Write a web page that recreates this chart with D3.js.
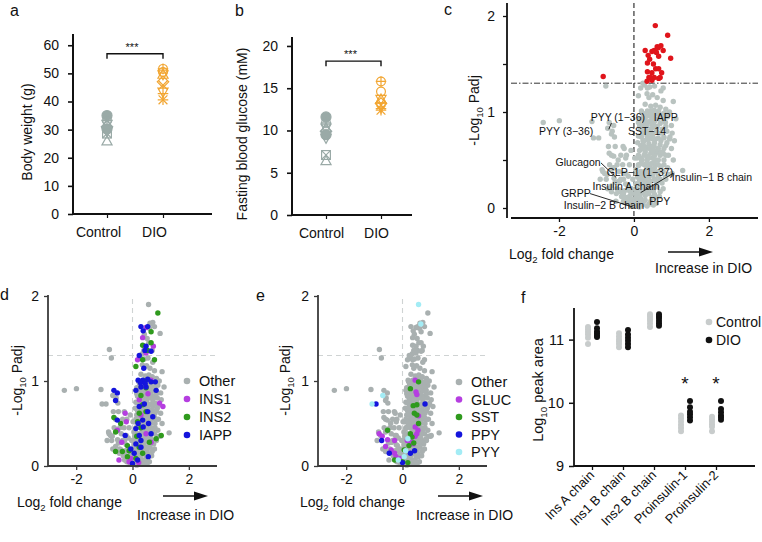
<!DOCTYPE html>
<html><head><meta charset="utf-8">
<script src="https://cdn.jsdelivr.net/npm/d3@7"></script>
<style>
body{margin:0;background:#fff}
svg{display:block}
text{font-family:"Liberation Sans",Arial,Helvetica,sans-serif;fill:#111}
</style>
</head><body>
<svg id="chart" width="762" height="542"></svg>
<script>
// ---------------- DATA ----------------
const groups = ["Control", "DIO"];
const weightTicks = [0, 10, 20, 30, 40, 50, 60];
const weightControl = [35.0, 33.2, 32.0, 31.0, 30.2, 29.4, 28.6, 25.9];
const weightDIO = [51.6, 50.5, 49.6, 47.0, 45.8, 43.4, 42.8, 40.6];
const glucoseTicks = [0, 5, 10, 15, 20];
const glucoseControl = [11.6, 10.9, 10.3, 9.9, 9.5, 9.1, 7.1, 6.4];
const glucoseDIO = [15.8, 14.6, 13.7, 13.2, 13.0, 12.8, 12.6, 12.4];
const controlShapes = ["dot", "circle+plus", "triangle+triangleDown", "diamond", "dot", "triangleDown", "square+x", "triangle"];
const dioShapes = ["circle+plus", "circle", "triangle+triangleDown", "diamond", "x", "triangleDown", "plus", "plus+x"];

// volcano data: [log2 fold change, -log10 padj]
const otherPeptides = [
 [-2.42,0.89],[-1.99,0.91],[-1.12,0.90],[-0.75,1.27],[-0.82,1.37],[-0.58,0.80],[-0.52,0.74],[-0.68,0.64],
 [-0.50,0.64],[-0.29,0.64],[-0.20,0.55],[-0.85,0.40],[-0.78,0.36],[-0.90,0.30],[-0.65,0.45],[-0.45,0.45],
 [-0.40,0.38],[-0.35,0.30],[-0.30,0.45],[-0.22,0.36],[-0.70,0.20],[-0.50,0.27],[-0.45,0.20],[-0.33,0.12],
 [-0.22,0.25],[-0.15,0.20],[-0.15,0.33],[-0.10,0.13],[-0.20,0.05],[-0.05,0.15],[-0.08,0.02],[-0.12,0.45],
 [-0.08,0.60],[0.02,0.52],[-0.03,0.30],[-0.60,0.55],[-0.35,0.55],[-0.02,0.08],[-0.25,0.18],[-0.40,0.28],
 [0.98,1.56],[0.72,1.69],[0.62,1.68],[0.42,1.55],[0.60,1.62],[0.40,1.36],[0.35,1.32],[0.58,1.45],
 [0.70,1.36],[0.52,1.50],[0.78,1.64],
 [0.28,1.28],[0.42,1.26],[0.55,1.27],[0.72,1.22],[0.35,1.19],[0.50,1.18],[0.62,1.15],[0.78,1.12],
 [1.05,1.11],[0.30,1.08],[0.45,1.06],[0.58,1.07],[0.70,1.05],[0.85,1.03],[0.95,1.00],[1.12,0.93],
 [0.22,0.99],[0.60,0.98],[0.75,0.97],[0.90,0.95],
 [0.15,0.92],[0.28,0.88],[0.40,0.90],[0.55,0.90],[0.70,0.88],[0.82,0.90],[1.00,0.86],[0.18,0.82],
 [0.32,0.80],[0.45,0.82],[0.60,0.80],[0.75,0.82],[0.88,0.80],[1.02,0.78],[0.20,0.74],[0.35,0.75],
 [0.50,0.76],[0.65,0.73],[0.80,0.74],[0.95,0.72],
 [0.10,0.68],[0.25,0.66],[0.40,0.67],[0.55,0.68],[0.70,0.66],[0.85,0.65],[1.00,0.62],[0.15,0.60],
 [0.30,0.58],[0.45,0.57],[0.62,0.58],[0.78,0.57],[0.92,0.55],[0.08,0.52],[0.22,0.50],[0.35,0.50],
 [0.50,0.52],[0.65,0.50],[0.80,0.50],[1.05,0.50],[0.12,0.45],[0.28,0.45],[0.42,0.44],[0.58,0.45],
 [0.72,0.43],[0.90,0.42],
 [0.05,0.40],[0.18,0.38],[0.32,0.38],[0.48,0.40],[0.62,0.37],[0.78,0.38],[1.30,0.39],[1.00,0.35],
 [0.10,0.32],[0.25,0.30],[0.40,0.32],[0.55,0.30],[0.70,0.30],[0.85,0.30],[0.05,0.25],[0.18,0.24],
 [0.32,0.24],[0.48,0.22],[0.62,0.22],[0.78,0.20],[0.12,0.18],[0.25,0.16],[0.40,0.15],[0.55,0.14],
 [0.68,0.12],[0.05,0.10],[0.18,0.10],[0.30,0.08],[0.45,0.07],[0.60,0.05],[0.10,0.04],[0.22,0.03],
 [0.35,0.02],[0.02,0.02],[0.15,0.01],
 [0.15,0.85],[0.25,0.95],[0.38,0.96],[0.52,0.95],[0.65,0.93],[0.78,0.93],[0.22,0.86],[0.35,0.86],
 [0.48,0.78],[0.62,0.85],[0.72,0.78],[0.85,0.85],[0.12,0.75],[0.27,0.70],[0.42,0.78],[0.58,0.72],
 [0.72,0.70],[0.88,0.68],[0.18,0.65],[0.33,0.63],[0.48,0.62],[0.65,0.62],[0.80,0.62],[0.12,0.55],
 [0.27,0.55],[0.40,0.52],[0.55,0.55],[0.70,0.55],[0.85,0.55],[0.18,0.46],[0.35,0.42],[0.50,0.47],
 [0.65,0.45],[0.80,0.45],[0.08,0.35],[0.22,0.34],[0.35,0.33],[0.50,0.34],[0.65,0.33],[0.92,0.35],
 [0.15,0.28],[0.30,0.28],[0.45,0.28],[0.60,0.27],[0.75,0.26],[0.08,0.20],[0.22,0.20],[0.35,0.19],
 [0.52,0.18],[0.70,0.17],[0.15,0.14],[0.30,0.13],[0.48,0.11],[0.08,0.06],[0.25,0.06],[0.40,0.04],
 [0.52,0.03]
];
const ins1Peptides = [[0.48,1.63],[0.36,1.51],[0.74,1.41],[0.48,1.33],[0.18,1.25],[0.66,1.01],[0.24,0.78],[0.96,0.74],
 [1.08,0.70],[-0.26,0.62],[-0.22,0.52],[-0.54,0.42],[-0.38,0.28],[0.48,0.38],[0.66,0.28],[-0.48,0.07],
 [-0.12,0.05],[0.22,0.04],[-0.06,0.09],[0.30,0.60],[0.55,0.85]];
const ins2Peptides = [[0.90,1.80],[0.66,1.58],[0.66,1.45],[0.36,1.42],[0.54,1.36],[0.78,1.25],[0.36,1.25],[0.12,1.17],
 [0.48,0.92],[0.30,0.83],[0.36,0.72],[0.48,0.64],[0.24,0.62],[0.18,0.52],[-0.66,0.57],[-0.42,0.50],
 [-0.60,0.40],[0.84,0.32],[1.02,0.36],[0.60,0.28],[-0.18,0.24],[-0.12,0.18],[-0.36,0.17],[-0.60,0.17],
 [0.24,0.22],[0.36,0.15],[-0.18,0.11],[0.12,0.09],[0.42,1.00],[0.30,0.45],[0.15,0.35]];
const iappPeptides = [[0.30,1.64],[0.38,1.59],[0.54,1.64],[0.48,1.41],[0.44,1.36],[0.66,1.35],[0.24,1.30],[0.40,1.15],
 [0.20,1.01],[0.36,1.01],[0.54,1.02],[0.66,0.99],[0.81,0.99],[0.84,0.89],[0.48,0.93],[0.30,0.93],
 [0.12,0.89],[-0.66,0.89],[-0.54,0.86],[-0.60,0.77],[-0.54,0.54],[-0.26,0.36],[0.12,0.44],[0.24,0.36],
 [0.38,0.46],[0.57,0.50],[0.66,0.38],[0.12,0.26],[0.30,0.22],[0.56,0.11],[0.18,0.07],[0.00,0.03],
 [0.24,0.70],[0.42,0.73],[0.54,0.64],[0.36,0.54],[0.72,0.58],[-0.06,0.20],[0.06,0.15],[0.28,0.98],
 [0.45,0.97],[0.20,0.50],[0.30,0.30]];
const glucPeptides = [[0.45,1.01],[0.48,0.87],[0.51,0.84],[0.57,0.59],[0.45,0.46],[0.51,0.38],[0.45,0.35],[0.38,0.26],
 [0.17,0.30],[-0.83,0.38],[-0.72,0.35],[-0.53,0.31],[-0.28,0.30],[-0.60,0.23],[-0.40,0.19],[-0.28,0.15],
 [-0.23,0.11],[-0.06,0.09],[0.30,0.28],[0.55,0.42]];
const sstPeptides = [[0.28,0.91],[0.57,0.99],[0.38,0.71],[0.51,0.72],[0.42,0.62],[0.51,0.60],[0.57,0.50],[-0.53,0.42],
 [0.28,0.38],[0.34,0.34],[0.40,0.27],[0.23,0.24],[0.06,0.19],[-0.28,0.07],[0.00,0.05],[0.19,0.04]];
const ppyPeptides = [[-0.94,0.73],[-0.74,0.30],[-0.47,0.15],[0.28,0.15],[0.43,0.18],[0.80,0.73],[0.00,0.04]];
const pyyPeptides = [[0.57,1.90],[0.65,1.67],[-0.70,0.83],[-1.08,0.73],[0.19,0.32],[0.11,0.18],[-0.15,0.07],[0.06,0.11]];
const padjThreshold = 1.3;
const volcanoXTicks = [-2, 0, 2];
const volcanoYTicks = [0, 1, 2];

// annotation labels for panel c
const cLabels = ["PYY (1\u221236)", "IAPP", "PYY (3\u221236)", "SST\u221214", "Glucagon", "GLP\u22121 (1\u221237)",
  "Insulin\u22121 B chain", "Insulin A chain", "GRPP", "PPY", "Insulin\u22122 B chain"];

// panel f
const fCategories = ["Ins A chain", "Ins1 B chain", "Ins2 B chain", "Proinsulin-1", "Proinsulin-2"];
const fControl = [[10.93,11.03,11.08,11.12,11.16,11.20],[10.88,10.93,10.97,11.00,11.05,11.10],[11.20,11.25,11.30,11.33,11.37,11.40],
  [9.55,9.60,9.65,9.70,9.75,9.80],[9.55,9.62,9.66,9.70,9.74,9.78]];
const fDIO = [[11.04,11.07,11.10,11.13,11.18,11.28],[10.88,10.93,10.98,11.03,11.08,11.15],[11.22,11.26,11.30,11.34,11.37,11.40],
  [9.72,9.77,9.82,9.86,9.93,10.03],[9.73,9.77,9.80,9.85,9.90,10.03]];
const fSignificant = ["Proinsulin-1", "Proinsulin-2"];
const fTicks = [9, 10, 11];

// ---------------- LAYOUT / STYLE ----------------
const svg = d3.select("#chart");
const C_CTRL = "#9aaaa7", C_DIO = "#f2a632";
const C_GREY = "#b9c3c0", C_RED = "#e0141b";
const C_OTHER = "#a9b0b0", C_INS1 = "#b53ee0", C_INS2 = "#2f9a1d", C_IAPP = "#1414dc";
const C_GLUC = "#b53ee0", C_SST = "#2f9a1d", C_PPY = "#1414dc", C_PYY = "#a3ecf5";

function letter(t, x, y) {
  svg.append("text").attr("x", x).attr("y", y).attr("font-size", 16).text(t);
}
function cleanAxis(sel, fs, sw, col) {
  sel.select(".domain").remove();
  sel.selectAll(".tick line").attr("stroke", col || "#111").attr("stroke-width", sw || 1.5);
  sel.selectAll(".tick text").attr("font-size", fs).attr("fill", "#111");
}
function subLabel(g, x, y, pre, sub, post, fs, rotate) {
  const t = g.append("text").attr("font-size", fs).attr("text-anchor", "middle")
    .attr("transform", rotate ? `translate(${x},${y}) rotate(-90)` : `translate(${x},${y})`);
  t.append("tspan").text(pre);
  t.append("tspan").attr("font-size", fs * 0.68).attr("dy", fs * 0.3).text(sub);
  t.append("tspan").attr("dy", -fs * 0.3).text(post);
  return t;
}
function drawMarker(g, shape, cx, cy, color) {
  const s = 4.4;
  const m = g.append("g").attr("transform", `translate(${cx},${cy})`)
    .attr("stroke", color).attr("fill", "none").attr("stroke-width", 1.2);
  shape.split("+").forEach(p => {
    if (p === "dot") m.append("circle").attr("r", s + 0.6).attr("fill", color);
    else if (p === "circle") m.append("circle").attr("r", s);
    else if (p === "square") m.append("rect").attr("x", -s).attr("y", -s).attr("width", 2 * s).attr("height", 2 * s);
    else if (p === "triangle") m.append("path").attr("d", `M0,${-s * 1.2}L${s * 1.15},${s * 0.85}L${-s * 1.15},${s * 0.85}Z`);
    else if (p === "triangleDown") m.append("path").attr("d", `M0,${s * 1.2}L${s * 1.15},${-s * 0.85}L${-s * 1.15},${-s * 0.85}Z`);
    else if (p === "diamond") m.append("path").attr("d", `M0,${-s * 1.3}L${s * 1.3},0L0,${s * 1.3}L${-s * 1.3},0Z`);
    else if (p === "plus") m.append("path").attr("d", `M${-s * 1.2},0H${s * 1.2}M0,${-s * 1.2}V${s * 1.2}`);
    else if (p === "x") m.append("path").attr("d", `M${-s},${-s}L${s},${s}M${-s},${s}L${s},${-s}`);
  });
}

// ---------- Panel a / b ----------
function dotPanel(cfg) {
  const g = svg.append("g");
  const x = d3.scalePoint().domain(groups).range(cfg.xr);
  const y = d3.scaleLinear().domain(cfg.yd).range(cfg.yr);
  g.append("g").attr("transform", `translate(${cfg.ax},0)`)
    .call(d3.axisLeft(y).tickValues(cfg.ticks).tickSize(5).tickPadding(9))
    .call(s => cleanAxis(s, 14, 1.6));
  g.append("g").attr("transform", `translate(0,${cfg.yr[0]})`)
    .call(d3.axisBottom(x).tickSize(4).tickPadding(9))
    .call(s => { cleanAxis(s, 14, 1.2); s.selectAll(".tick text").attr("dx", cfg.labShift); });
  g.append("line").attr("x1", cfg.ax).attr("x2", cfg.ax).attr("y1", cfg.yr[0] + 0.8).attr("y2", cfg.yr[1])
    .attr("stroke", "#111").attr("stroke-width", 2);
  g.append("line").attr("x1", cfg.ax).attr("x2", cfg.xend).attr("y1", cfg.yr[0]).attr("y2", cfg.yr[0])
    .attr("stroke", "#111").attr("stroke-width", 2);
  cfg.ctrl.forEach((v, i) => drawMarker(g, controlShapes[i], x("Control"), y(v), C_CTRL));
  cfg.dio.forEach((v, i) => drawMarker(g, dioShapes[i], x("DIO"), y(v), C_DIO));
  const by = y(cfg.bracket);
  g.append("path").attr("d", `M${x("Control")},${by + 5}V${by}H${x("DIO")}V${by + 5}`)
    .attr("fill", "none").attr("stroke", "#111").attr("stroke-width", 1.4);
  g.append("text").attr("x", (x("Control") + x("DIO")) / 2 - 3).attr("y", by - 3).attr("text-anchor", "middle")
    .attr("font-size", 11).text("***");
  g.append("text").attr("transform", `translate(${cfg.labx},${(cfg.yr[0] + cfg.yr[1]) / 2 + 8}) rotate(-90)`)
    .attr("text-anchor", "middle").attr("font-size", 14).text(cfg.title);
}
dotPanel({ xr: [107, 163], yd: [0, 64], yr: [214, 34], ax: 73, xend: 212, ticks: weightTicks, labShift: -9,
  ctrl: weightControl, dio: weightDIO, bracket: 57, labx: 32, title: "Body weight (g)" });
dotPanel({ xr: [326, 381], yd: [0, 21.06], yr: [215, 37], ax: 292, xend: 412, ticks: glucoseTicks, labShift: -5,
  ctrl: glucoseControl, dio: glucoseDIO, bracket: 18.2, labx: 247, title: "Fasting blood glucose (mM)" });
letter("a", 10, 16);
letter("b", 235, 16);

// ---------- volcano helper ----------
function volcanoAxes(g, x, y, cfg) {
  g.append("g").attr("transform", `translate(${cfg.yAxisX},0)`)
    .call(d3.axisLeft(y).tickValues(cfg.yTicks).tickSize(4).tickPadding(cfg.yPad)
      .tickFormat(d => Number.isInteger(d) ? d : ""))
    .call(s => cleanAxis(s, 14, 1.3, cfg.axisColor));
  g.append("g").attr("transform", `translate(0,${cfg.xAxisY})`)
    .call(d3.axisBottom(x).tickValues(volcanoXTicks).tickSize(4).tickPadding(4)
      .tickFormat(d => d < 0 ? "-" + Math.abs(d) : d))
    .call(s => cleanAxis(s, 14, 1.3, cfg.axisColor));
  g.append("line").attr("x1", cfg.yAxisX).attr("x2", cfg.yAxisX).attr("y1", cfg.xAxisY).attr("y2", cfg.yTop)
    .attr("stroke", cfg.axisColor).attr("stroke-width", 1.8);
  g.append("line").attr("x1", x.range()[0]).attr("x2", x.range()[1]).attr("y1", cfg.xAxisY).attr("y2", cfg.xAxisY)
    .attr("stroke", cfg.axisColor).attr("stroke-width", 1.8);
  subLabel(g, cfg.labX, cfg.labY, "Log", "2", " fold change", 14, false).attr("text-anchor", "start");
  subLabel(g, cfg.ylabX, (cfg.xAxisY + cfg.yTop) / 2, "-Log", "10", " Padj", 14, true);
  g.append("line").attr("x1", cfg.arX).attr("x2", cfg.arX + 33).attr("y1", cfg.arY).attr("y2", cfg.arY)
    .attr("stroke", "#111").attr("stroke-width", 1.3);
  g.append("path").attr("d", `M${cfg.arX + 31},${cfg.arY - 4.5}L${cfg.arX + 45},${cfg.arY}L${cfg.arX + 31},${cfg.arY + 4.5}Z`)
    .attr("fill", "#111");
  g.append("text").attr("x", cfg.incX).attr("y", cfg.incY).attr("font-size", 14).text("Increase in DIO");
}

// ---------- Panel c ----------
{
  const g = svg.append("g");
  const x = d3.scaleLinear().domain([-3.28, 3.31]).range([511, 758]);
  const y = d3.scaleLinear().domain([0, 2]).range([208, 16]);
  const all = [].concat(otherPeptides, ins1Peptides, ins2Peptides, iappPeptides, glucPeptides, sstPeptides, ppyPeptides, pyyPeptides);
  g.append("line").attr("x1", x(0)).attr("x2", x(0)).attr("y1", y(0) + 8).attr("y2", 3)
    .attr("stroke", "#222").attr("stroke-width", 1.1).attr("stroke-dasharray", "5,3");
  g.append("line").attr("x1", 511).attr("x2", 758).attr("y1", y(padjThreshold)).attr("y2", y(padjThreshold))
    .attr("stroke", "#333").attr("stroke-width", 1).attr("stroke-dasharray", "6,2,1.5,2");
  g.selectAll("circle.ns").data(all.filter(d => d[1] <= padjThreshold)).join("circle")
    .attr("cx", d => x(d[0])).attr("cy", d => y(d[1])).attr("r", 2.7).attr("fill", C_GREY);
  g.selectAll("circle.sig").data(all.filter(d => d[1] > padjThreshold)).join("circle")
    .attr("cx", d => x(d[0])).attr("cy", d => y(d[1])).attr("r", 2.7).attr("fill", C_RED);
  volcanoAxes(g, x, y, { yAxisX: 507, xAxisY: 218, yTop: 3, yTicks: [0, 0.5, 1, 1.5, 2], axisColor: "#111", yPad: 8,
    labX: 509, labY: 259, ylabX: 479, arX: 668, arY: 252, incX: 655, incY: 273 });
  const ann = [
    [cLabels[0], -0.43, 0.95, [-0.60, 0.885, -0.67, 0.82]],
    [cLabels[1], 0.85, 0.95, null],
    [cLabels[2], -1.81, 0.80, null],
    [cLabels[3], 0.35, 0.80, null],
    [cLabels[4], -1.49, 0.48, [-0.88, 0.47, -0.48, 0.32]],
    [cLabels[5], 0.16, 0.375, null],
    [cLabels[6], 2.08, 0.32, [1.04, 0.36, 0.18, 0.16]],
    [cLabels[7], -0.21, 0.23, null],
    [cLabels[8], -1.55, 0.156, [-1.17, 0.15, -0.03, 0.01]],
    [cLabels[9], 0.69, 0.073, null],
    [cLabels[10], -0.80, 0.03, null]
  ];
  ann.forEach(a => {
    if (a[3]) g.append("line").attr("x1", x(a[3][0])).attr("y1", y(a[3][1])).attr("x2", x(a[3][2])).attr("y2", y(a[3][3]))
      .attr("stroke", "#111").attr("stroke-width", 0.9);
    g.append("text").attr("x", x(a[1])).attr("y", y(a[2]) + 4).attr("text-anchor", "middle")
      .attr("font-size", 10.5).text(a[0]);
  });
  letter("c", 444, 15);
}

// ---------- Panels d / e ----------
function colourVolcano(cfg) {
  const g = svg.append("g");
  const x = d3.scaleLinear().domain([-3, 3]).range(cfg.xr);
  const y = d3.scaleLinear().domain([0, 2]).range([466, 296]);
  g.append("line").attr("x1", x(0)).attr("x2", x(0)).attr("y1", 466).attr("y2", 296)
    .attr("stroke", "#cfd3d3").attr("stroke-width", 1.1).attr("stroke-dasharray", "5,4");
  g.append("line").attr("x1", cfg.xr[0]).attr("x2", cfg.xr[1]).attr("y1", y(padjThreshold)).attr("y2", y(padjThreshold))
    .attr("stroke", "#cfd3d3").attr("stroke-width", 1.1).attr("stroke-dasharray", "5,4");
  const layers = [["Other", C_OTHER, cfg.other]].concat(cfg.series);
  layers.forEach(L => {
    g.append("g").selectAll("circle").data(L[2]).join("circle")
      .attr("cx", d => x(d[0])).attr("cy", d => y(d[1])).attr("r", 2.7).attr("fill", L[1]);
  });
  volcanoAxes(g, x, y, { yAxisX: cfg.xr[0], xAxisY: 466, yTop: 295, yTicks: volcanoYTicks, axisColor: "#3a3a3a", yPad: 5,
    labX: cfg.labX, labY: 507, ylabX: cfg.ylabX, arX: cfg.arX, arY: 496, incX: cfg.incX, incY: 520 });
  layers.forEach((L, i) => {
    const ly = cfg.legY + i * cfg.legStep;
    g.append("circle").attr("cx", cfg.legX).attr("cy", ly).attr("r", 3.3).attr("fill", L[1]);
    g.append("text").attr("x", cfg.legX + 12).attr("y", ly + 5).attr("font-size", 14.5).text(L[0]);
  });
}
colourVolcano({ xr: [48, 217],
  other: [].concat(otherPeptides, glucPeptides, sstPeptides, ppyPeptides, pyyPeptides),
  series: [["INS1", C_INS1, ins1Peptides], ["INS2", C_INS2, ins2Peptides], ["IAPP", C_IAPP, iappPeptides]],
  labX: 17, ylabX: 22, arX: 163, incX: 137, legX: 187, legY: 381, legStep: 18 });
colourVolcano({ xr: [318, 487],
  other: [].concat(otherPeptides, ins1Peptides, ins2Peptides, iappPeptides),
  series: [["GLUC", C_GLUC, glucPeptides], ["SST", C_SST, sstPeptides], ["PPY", C_PPY, ppyPeptides], ["PYY", C_PYY, pyyPeptides]],
  labX: 300, ylabX: 290, arX: 438, incX: 416, legX: 459, legY: 382, legStep: 17.5 });
letter("d", 0, 300);
letter("e", 256, 301);

// ---------- Panel f ----------
{
  const g = svg.append("g");
  const x = d3.scalePoint().domain(fCategories).range([592, 716]);
  const y = d3.scaleLinear().domain([9, 11.5]).range([466, 308]);
  g.append("g").attr("transform", "translate(574,0)")
    .call(d3.axisLeft(y).tickValues(fTicks).tickSize(5).tickPadding(5).tickFormat(d3.format("d")))
    .call(s => cleanAxis(s, 14.5, 1.5));
  g.append("g").attr("transform", "translate(0,466)")
    .call(d3.axisBottom(x).tickSize(4).tickFormat(""))
    .call(s => cleanAxis(s, 12, 1.3));
  g.append("line").attr("x1", 574).attr("x2", 574).attr("y1", 467).attr("y2", 308).attr("stroke", "#111").attr("stroke-width", 1.8);
  g.append("line").attr("x1", 574).attr("x2", 755).attr("y1", 466).attr("y2", 466).attr("stroke", "#111").attr("stroke-width", 1.8);
  fCategories.forEach((c, i) => {
    g.append("text").attr("transform", `translate(${x(c) + 3},${476}) rotate(-45)`)
      .attr("text-anchor", "end").attr("font-size", 13).text(c);
    g.append("g").selectAll("circle").data(fControl[i]).join("circle")
      .attr("cx", x(c) - 4).attr("cy", d => y(d)).attr("r", 3).attr("fill", "#c8cccc");
    g.append("g").selectAll("circle").data(fDIO[i]).join("circle")
      .attr("cx", x(c) + 5).attr("cy", d => y(d)).attr("r", 3).attr("fill", "#111");
    if (fSignificant.includes(c))
      g.append("text").attr("x", x(c)).attr("y", 390).attr("text-anchor", "middle").attr("font-size", 19).text("*");
  });
  subLabel(g, 543, 390, "Log", "10", " peak area", 14.5, true);
  [["Control", "#c8cccc"], ["DIO", "#111"]].forEach((L, i) => {
    g.append("circle").attr("cx", 709).attr("cy", 322 + i * 18).attr("r", 3.3).attr("fill", L[1]);
    g.append("text").attr("x", 716).attr("y", 327 + i * 18).attr("font-size", 14).text(L[0]);
  });
  letter("f", 521, 303);
}
</script>
</body></html>
